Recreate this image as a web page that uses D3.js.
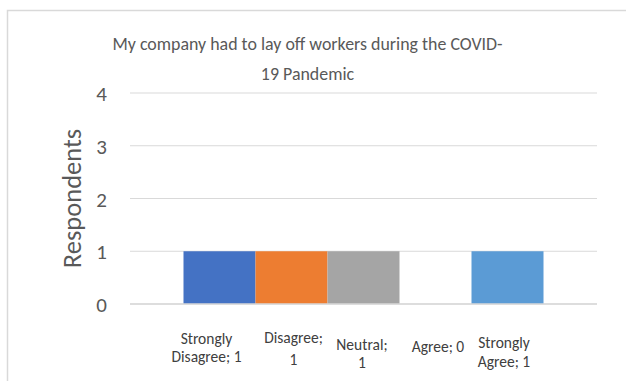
<!DOCTYPE html>
<html>
<head>
<meta charset="utf-8">
<script src="https://cdn.jsdelivr.net/npm/d3@7/dist/d3.min.js"></script>
<style>
  html, body { margin: 0; padding: 0; background: #fff; }
  svg { display: block; font-family: Carlito, Lato, "Open Sans", sans-serif; }
</style>
</head>
<body>
<svg id="chart" width="626" height="381"></svg>
<script>
// Survey answers and respondent counts
const categories = ["Strongly Disagree", "Disagree", "Neutral", "Agree", "Strongly Agree"];
const respondents = [1, 1, 1, 0, 1];
const colors = ["#4472c4", "#ed7d31", "#a5a5a5", "#ffc000", "#5b9bd5"];
const yTicks = [0, 1, 2, 3, 4];
const titleLines = ["My company had to lay off workers during the COVID-", "19 Pandemic"];
// Data-label line breaks as laid out under each bar
const labelLines = [
  ["Strongly", "Disagree; 1"],
  ["Disagree;", "1"],
  ["Neutral;", "1"],
  ["Agree; 0"],
  ["Strongly", "Agree; 1"]
];
// Label placement: horizontal shift from bar centre, first baseline, line step
const labelDx = [-13, 2, -1.5, 2.5, -3.5];
const labelBase = [344, 343, 350, 352, 348];
const labelLh = [18, 22, 18, 18, 19];

const svg = d3.select("#chart");
const W = 626, H = 381;
const plot = { left: 130, right: 597, top: 93, bottom: 304 };

// Chart area frame
svg.append("path")
  .attr("d", `M7.5,${H} V10.5 H${W}`)
  .attr("fill", "none")
  .attr("stroke", "#d9d9d9")
  .attr("stroke-width", 1.5);

const y = d3.scaleLinear().domain([0, 4]).range([plot.bottom, plot.top]);
const x = d3.scaleBand().domain(categories)
  .range([plot.left, plot.right])
  .paddingInner(0)
  .paddingOuter(0.743);

// Gridlines
svg.append("g")
  .selectAll("line").data(yTicks).join("line")
  .attr("x1", plot.left).attr("x2", plot.right)
  .attr("y1", d => y(d)).attr("y2", d => y(d))
  .attr("stroke", "#d9d9d9").attr("stroke-width", 1.2);

// Y axis labels
const yAxis = d3.axisLeft(y).tickValues(yTicks).tickFormat(d3.format("d")).tickSize(0).tickPadding(0);
svg.append("g")
  .attr("transform", `translate(${plot.left - 23},0)`)
  .call(yAxis)
  .call(g => g.select(".domain").remove())
  .call(g => g.selectAll("text")
    .attr("fill", "#595959")
    .attr("font-size", 21)
    .attr("font-family", "Carlito, Lato, sans-serif")
    .attr("text-anchor", "end")
    .attr("dy", "0.36em"));

// Axis title
svg.append("text")
  .attr("transform", `translate(81,${(plot.top + plot.bottom) / 2}) rotate(-90)`)
  .attr("text-anchor", "middle")
  .attr("fill", "#595959")
  .attr("font-size", 26.5)
  .text("Respondents");

// Bars
svg.append("g")
  .selectAll("rect").data(categories).join("rect")
  .attr("x", d => x(d))
  .attr("width", x.bandwidth())
  .attr("y", (d, i) => y(respondents[i]))
  .attr("height", (d, i) => y(0) - y(respondents[i]))
  .attr("fill", (d, i) => colors[i]);

// Baseline
svg.append("line")
  .attr("x1", plot.left).attr("x2", plot.right)
  .attr("y1", y(0)).attr("y2", y(0))
  .attr("stroke", "#d9d9d9").attr("stroke-width", 1.5);

// Data labels
const lab = svg.append("g").attr("fill", "#404040").attr("font-size", 15.5).attr("text-anchor", "middle");
categories.forEach((c, i) => {
  const cx = x(c) + x.bandwidth() / 2 + labelDx[i];
  const t = lab.append("text");
  labelLines[i].forEach((s, k) => {
    t.append("tspan").attr("x", cx).attr("y", labelBase[i] + k * labelLh[i]).text(s);
  });
});

// Title
const tt = svg.append("text").attr("text-anchor", "middle").attr("fill", "#595959").attr("font-size", 17.9);
titleLines.forEach((s, k) => {
  tt.append("tspan").attr("x", 307.5).attr("y", 50 + k * 29.5).text(s);
});
</script>
</body>
</html>
